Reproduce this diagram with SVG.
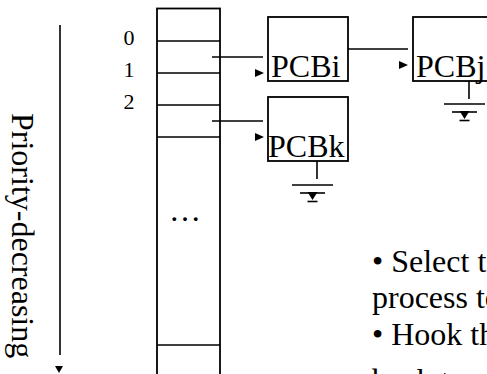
<svg xmlns="http://www.w3.org/2000/svg" width="487" height="374" viewBox="0 0 487 374">
<style>
.ln{stroke:#000;stroke-width:1.6;fill:none}
.box{stroke:#000;stroke-width:1.8;fill:#fff}
.ah{fill:#000}
.t{font-family:"Liberation Serif","Times New Roman",serif;fill:#000}
</style>
<defs>
<g id="gnd">
<line class="ln" x1="-20.5" y1="0" x2="20.5" y2="0"/>
<line class="ln" x1="-12.5" y1="8" x2="12.5" y2="8"/>
<polygon class="ah" points="-5,7 5,7 0,15"/>
<line class="ln" x1="-5" y1="16.5" x2="5" y2="16.5"/>
</g>
</defs>
<rect width="487" height="374" fill="#fff"/>
<g id="priority-axis">
<line class="ln" x1="60" y1="25" x2="60" y2="355"/>
<polygon class="ah" points="55,366 63,366 59,373"/>
<text class="t" font-size="32" transform="translate(12,113) rotate(90)">Priority-decreasing</text>
</g>
<g id="table">
<rect class="box" x="157" y="8.5" width="63" height="380"/>
<line class="ln" x1="157" y1="41" x2="220" y2="41"/>
<line class="ln" x1="157" y1="73" x2="220" y2="73"/>
<line class="ln" x1="157" y1="105" x2="220" y2="105"/>
<line class="ln" x1="157" y1="137" x2="220" y2="137"/>
<line class="ln" x1="157" y1="345" x2="220" y2="345"/>
<text class="t" font-size="32" x="185" y="221" text-anchor="middle">…</text>
</g>
<g id="labels" class="t" font-size="22" text-anchor="middle">
<text x="129" y="45">0</text>
<text x="129" y="77">1</text>
<text x="129" y="109">2</text>
</g>
<g id="connectors">
<line class="ln" x1="212" y1="57" x2="263" y2="57"/>
<polygon class="ah" points="255,69 255,77 264,73"/>
<line class="ln" x1="348" y1="49" x2="408" y2="49"/>
<polygon class="ah" points="399,61 399,69 408,65"/>
<line class="ln" x1="212" y1="121" x2="263" y2="121"/>
<polygon class="ah" points="255,133 255,141 264,137"/>
<line class="ln" x1="469" y1="81" x2="469" y2="99"/>
<line class="ln" x1="317" y1="161" x2="317" y2="179"/>
</g>
<g id="pcbi">
<rect class="box" x="268" y="17" width="80" height="64"/>
<text class="t" font-size="32" x="271" y="77">PCBi</text>
</g>
<g id="pcbj">
<rect class="box" x="413" y="17" width="90" height="64"/>
<text class="t" font-size="32" x="416" y="77">PCBj</text>
<use href="#gnd" x="464.5" y="104"/>
</g>
<g id="pcbk">
<rect class="box" x="268" y="97" width="80" height="64"/>
<text class="t" font-size="32" x="268" y="157">PCBk</text>
<use href="#gnd" x="312.5" y="185"/>
</g>
<g id="notes" class="t" font-size="32">
<text x="372" y="272">• Select t</text>
<text x="372" y="308">process to</text>
<text x="372" y="345">• Hook th</text>
<text x="372" y="391">back to</text>
</g>
</svg>
